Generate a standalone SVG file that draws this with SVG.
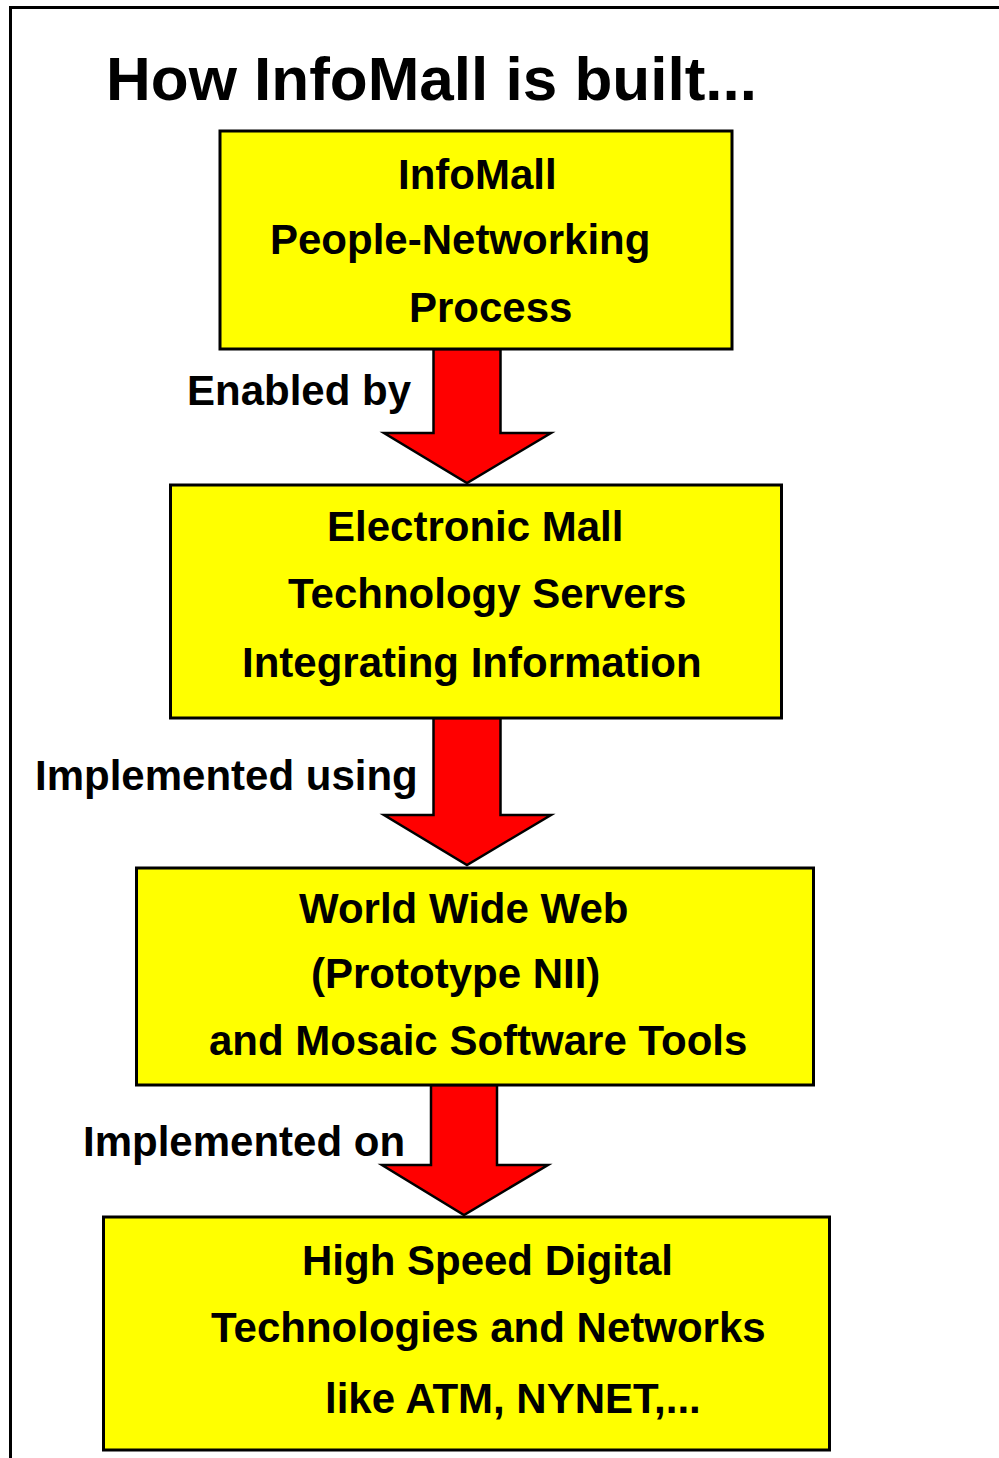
<svg xmlns="http://www.w3.org/2000/svg" width="999" height="1458" viewBox="0 0 999 1458">
<style>
.t{font-family:"Liberation Sans",Arial,sans-serif;font-weight:bold;fill:#000;font-size:42px}
.box{fill:#ffff00;stroke:#000;stroke-width:3}
.arr{fill:#ff0000;stroke:#000;stroke-width:2.5;stroke-linejoin:miter}
</style>
<rect x="0" y="0" width="999" height="1458" fill="#fff"/>
<rect x="10.5" y="7.5" width="1100" height="1600" fill="none" stroke="#000" stroke-width="3"/>
<text x="106" y="100" class="t" style="font-size:62px">How InfoMall is built...</text>
<g id="connectors">
<polygon class="arr" points="433.5,349 500.5,349 500.5,433 551,433 467,483 384,433 433.5,433"/>
<polygon class="arr" points="433.5,718 500.5,718 500.5,815 551,815 467,865 384,815 433.5,815"/>
<polygon class="arr" points="431,1085 497,1085 497,1165 548,1165 464,1215 382,1165 431,1165"/>
<text x="187" y="405" class="t">Enabled by</text>
<text x="35" y="790" class="t">Implemented using</text>
<text x="83" y="1156" class="t">Implemented on</text>
</g>
<g id="node1">
<rect class="box" x="220" y="131" width="512" height="218"/>
<text x="398" y="189" class="t">InfoMall</text>
<text x="270" y="254" class="t">People-Networking</text>
<text x="409" y="322" class="t">Process</text>
</g>
<g id="node2">
<rect class="box" x="170.5" y="485" width="611" height="233"/>
<text x="327" y="541" class="t">Electronic Mall</text>
<text x="288" y="608" class="t">Technology Servers</text>
<text x="242" y="677" class="t">Integrating Information</text>
</g>
<g id="node3">
<rect class="box" x="136.5" y="868" width="677" height="217"/>
<text x="299" y="923" class="t">World Wide Web</text>
<text x="311" y="988" class="t">(Prototype NII)</text>
<text x="209" y="1055" class="t">and Mosaic Software Tools</text>
</g>
<g id="node4">
<rect class="box" x="103.5" y="1217" width="726" height="233"/>
<text x="302" y="1275" class="t">High Speed Digital</text>
<text x="211" y="1342" class="t">Technologies and Networks</text>
<text x="325" y="1413" class="t">like ATM, NYNET,...</text>
</g>
</svg>
